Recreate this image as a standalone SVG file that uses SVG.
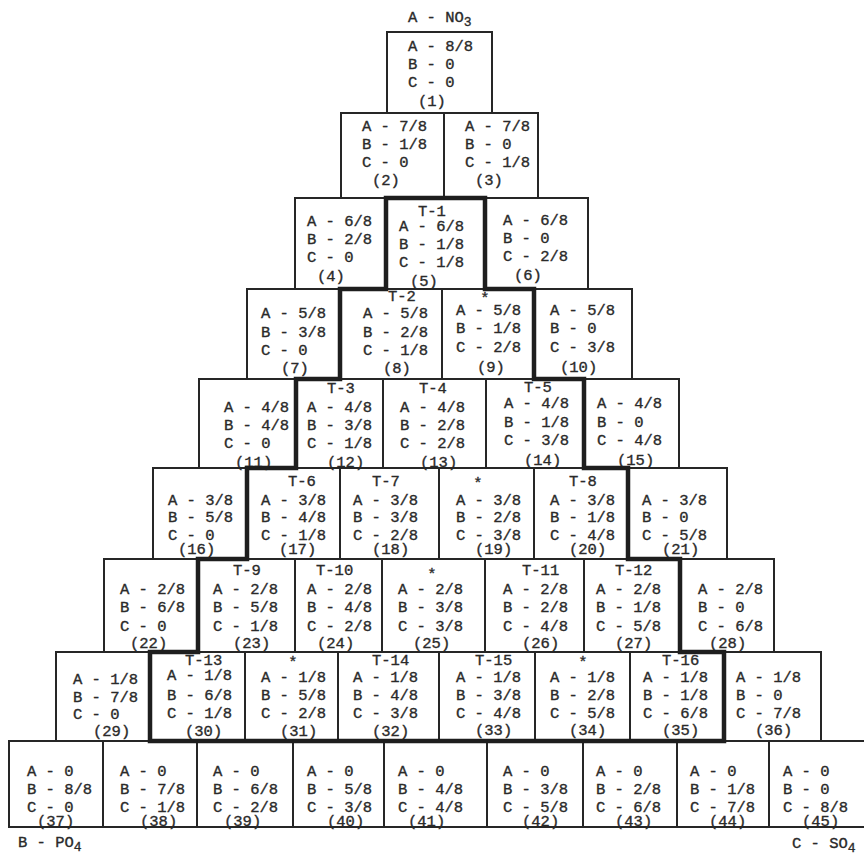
<svg xmlns="http://www.w3.org/2000/svg" width="864" height="856" viewBox="0 0 864 856">
<style>
.b{fill:none;stroke:#262626;stroke-width:2}
.k{fill:none;stroke:#1e1e1e;stroke-width:4.5;stroke-linejoin:miter}
.t{font-family:"Liberation Mono","DejaVu Sans Mono",monospace;font-size:15.5px;fill:#2a2a2a;stroke:#2a2a2a;stroke-width:0.35}
.m{text-anchor:middle}
</style>
<rect x="0" y="0" width="864" height="856" fill="#ffffff"/>
<text class="t" x="408" y="22">A - NO<tspan dy="4" font-size="13">3</tspan></text>
<text class="t" x="18" y="847">B - PO<tspan dy="4" font-size="13">4</tspan></text>
<text class="t" x="792" y="848">C - SO<tspan dy="4" font-size="13">4</tspan></text>

<g id="n1"><rect class="b" x="387" y="32" width="105" height="81"/><text class="t"><tspan x="408" y="51">A - 8/8</tspan><tspan x="408" y="69">B - 0</tspan><tspan x="408" y="87">C - 0</tspan><tspan x="418" y="106">(1)</tspan></text></g>

<g id="n2"><rect class="b" x="341" y="113" width="103" height="85"/><text class="t"><tspan x="362" y="131">A - 7/8</tspan><tspan x="362" y="149">B - 1/8</tspan><tspan x="362" y="167">C - 0</tspan><tspan x="372" y="185">(2)</tspan></text></g>
<g id="n3"><rect class="b" x="444" y="113" width="94" height="85"/><text class="t"><tspan x="465" y="131">A - 7/8</tspan><tspan x="465" y="149">B - 0</tspan><tspan x="465" y="167">C - 1/8</tspan><tspan x="475" y="185">(3)</tspan></text></g>

<g id="n4"><rect class="b" x="295" y="198" width="91" height="91"/><text class="t"><tspan x="307" y="226">A - 6/8</tspan><tspan x="307" y="244">B - 2/8</tspan><tspan x="307" y="262">C - 0</tspan><tspan x="317" y="281">(4)</tspan></text></g>
<g id="n5"><rect class="b" x="386" y="198" width="99" height="91"/><text class="t"><tspan x="418" y="216">T-1</tspan><tspan x="399" y="231">A - 6/8</tspan><tspan x="399" y="249">B - 1/8</tspan><tspan x="399" y="267">C - 1/8</tspan><tspan x="410" y="286">(5)</tspan></text></g>
<g id="n6"><rect class="b" x="485" y="198" width="103" height="91"/><text class="t"><tspan x="503" y="225">A - 6/8</tspan><tspan x="503" y="243">B - 0</tspan><tspan x="503" y="261">C - 2/8</tspan><tspan x="514" y="280">(6)</tspan></text></g>

<g id="n7"><rect class="b" x="247" y="289" width="93" height="90"/><text class="t"><tspan x="261" y="318">A - 5/8</tspan><tspan x="261" y="337">B - 3/8</tspan><tspan x="261" y="355">C - 0</tspan><tspan x="281" y="373">(7)</tspan></text></g>
<g id="n8"><rect class="b" x="340" y="289" width="102" height="90"/><text class="t"><tspan x="388" y="301">T-2</tspan><tspan x="363" y="318">A - 5/8</tspan><tspan x="363" y="337">B - 2/8</tspan><tspan x="363" y="355">C - 1/8</tspan><tspan x="383" y="373">(8)</tspan></text></g>
<g id="n9"><rect class="b" x="442" y="289" width="92" height="90"/><text class="t"><tspan class="m" x="485" y="303">*</tspan><tspan x="456" y="315">A - 5/8</tspan><tspan x="456" y="333">B - 1/8</tspan><tspan x="456" y="352">C - 2/8</tspan><tspan x="477" y="372">(9)</tspan></text></g>
<g id="n10"><rect class="b" x="534" y="289" width="98" height="90"/><text class="t"><tspan x="550" y="315">A - 5/8</tspan><tspan x="550" y="333">B - 0</tspan><tspan x="550" y="352">C - 3/8</tspan><tspan x="560" y="372">(10)</tspan></text></g>

<g id="n11"><rect class="b" x="199" y="379" width="97" height="89"/><text class="t"><tspan x="224" y="412">A - 4/8</tspan><tspan x="224" y="430">B - 4/8</tspan><tspan x="224" y="448">C - 0</tspan><tspan x="235" y="467">(11)</tspan></text></g>
<g id="n12"><rect class="b" x="296" y="379" width="87" height="89"/><text class="t"><tspan x="327" y="393">T-3</tspan><tspan x="307" y="412">A - 4/8</tspan><tspan x="307" y="430">B - 3/8</tspan><tspan x="307" y="448">C - 1/8</tspan><tspan x="327" y="467">(12)</tspan></text></g>
<g id="n13"><rect class="b" x="383" y="379" width="103" height="89"/><text class="t"><tspan x="419" y="393">T-4</tspan><tspan x="400" y="412">A - 4/8</tspan><tspan x="400" y="430">B - 2/8</tspan><tspan x="400" y="448">C - 2/8</tspan><tspan x="420" y="467">(13)</tspan></text></g>
<g id="n14"><rect class="b" x="486" y="379" width="98" height="89"/><text class="t"><tspan x="524" y="392">T-5</tspan><tspan x="504" y="408">A - 4/8</tspan><tspan x="504" y="427">B - 1/8</tspan><tspan x="504" y="445">C - 3/8</tspan><tspan x="524" y="465">(14)</tspan></text></g>
<g id="n15"><rect class="b" x="584" y="379" width="95" height="89"/><text class="t"><tspan x="597" y="408">A - 4/8</tspan><tspan x="597" y="427">B - 0</tspan><tspan x="597" y="445">C - 4/8</tspan><tspan x="617" y="465">(15)</tspan></text></g>

<g id="n16"><rect class="b" x="153" y="468" width="94" height="91"/><text class="t"><tspan x="168" y="505">A - 3/8</tspan><tspan x="168" y="522">B - 5/8</tspan><tspan x="168" y="540">C - 0</tspan><tspan x="178" y="554">(16)</tspan></text></g>
<g id="n17"><rect class="b" x="247" y="468" width="93" height="91"/><text class="t"><tspan x="288" y="486">T-6</tspan><tspan x="261" y="505">A - 3/8</tspan><tspan x="261" y="522">B - 4/8</tspan><tspan x="261" y="540">C - 1/8</tspan><tspan x="279" y="554">(17)</tspan></text></g>
<g id="n18"><rect class="b" x="340" y="468" width="99" height="91"/><text class="t"><tspan x="372" y="486">T-7</tspan><tspan x="353" y="505">A - 3/8</tspan><tspan x="353" y="522">B - 3/8</tspan><tspan x="353" y="540">C - 2/8</tspan><tspan x="372" y="554">(18)</tspan></text></g>
<g id="n19"><rect class="b" x="439" y="468" width="95" height="91"/><text class="t"><tspan class="m" x="478" y="488">*</tspan><tspan x="456" y="505">A - 3/8</tspan><tspan x="456" y="522">B - 2/8</tspan><tspan x="456" y="540">C - 3/8</tspan><tspan x="475" y="554">(19)</tspan></text></g>
<g id="n20"><rect class="b" x="534" y="468" width="94" height="91"/><text class="t"><tspan x="569" y="486">T-8</tspan><tspan x="550" y="505">A - 3/8</tspan><tspan x="550" y="522">B - 1/8</tspan><tspan x="550" y="540">C - 4/8</tspan><tspan x="569" y="554">(20)</tspan></text></g>
<g id="n21"><rect class="b" x="628" y="468" width="99" height="91"/><text class="t"><tspan x="642" y="505">A - 3/8</tspan><tspan x="642" y="522">B - 0</tspan><tspan x="642" y="540">C - 5/8</tspan><tspan x="662" y="554">(21)</tspan></text></g>

<g id="n22"><rect class="b" x="104" y="559" width="94" height="93"/><text class="t"><tspan x="120" y="594">A - 2/8</tspan><tspan x="120" y="612">B - 6/8</tspan><tspan x="120" y="631">C - 0</tspan><tspan x="130" y="648">(22)</tspan></text></g>
<g id="n23"><rect class="b" x="198" y="559" width="97" height="93"/><text class="t"><tspan x="233" y="575">T-9</tspan><tspan x="213" y="594">A - 2/8</tspan><tspan x="213" y="612">B - 5/8</tspan><tspan x="213" y="631">C - 1/8</tspan><tspan x="233" y="648">(23)</tspan></text></g>
<g id="n24"><rect class="b" x="295" y="559" width="87" height="93"/><text class="t"><tspan x="316" y="575">T-10</tspan><tspan x="307" y="594">A - 2/8</tspan><tspan x="307" y="612">B - 4/8</tspan><tspan x="307" y="631">C - 2/8</tspan><tspan x="317" y="648">(24)</tspan></text></g>
<g id="n25"><rect class="b" x="382" y="559" width="103" height="93"/><text class="t"><tspan class="m" x="432" y="579">*</tspan><tspan x="398" y="594">A - 2/8</tspan><tspan x="398" y="612">B - 3/8</tspan><tspan x="398" y="631">C - 3/8</tspan><tspan x="413" y="648">(25)</tspan></text></g>
<g id="n26"><rect class="b" x="485" y="559" width="99" height="93"/><text class="t"><tspan x="522" y="575">T-11</tspan><tspan x="503" y="594">A - 2/8</tspan><tspan x="503" y="612">B - 2/8</tspan><tspan x="503" y="631">C - 4/8</tspan><tspan x="522" y="648">(26)</tspan></text></g>
<g id="n27"><rect class="b" x="584" y="559" width="96" height="93"/><text class="t"><tspan x="615" y="575">T-12</tspan><tspan x="596" y="594">A - 2/8</tspan><tspan x="596" y="612">B - 1/8</tspan><tspan x="596" y="631">C - 5/8</tspan><tspan x="615" y="648">(27)</tspan></text></g>
<g id="n28"><rect class="b" x="680" y="559" width="94" height="93"/><text class="t"><tspan x="698" y="594">A - 2/8</tspan><tspan x="698" y="612">B - 0</tspan><tspan x="698" y="631">C - 6/8</tspan><tspan x="709" y="648">(28)</tspan></text></g>

<g id="n29"><rect class="b" x="56" y="652" width="94" height="89"/><text class="t"><tspan x="73" y="684">A - 1/8</tspan><tspan x="73" y="702">B - 7/8</tspan><tspan x="73" y="719">C - 0</tspan><tspan x="93" y="736">(29)</tspan></text></g>
<g id="n30"><rect class="b" x="150" y="652" width="95" height="89"/><text class="t"><tspan x="185" y="665">T-13</tspan><tspan x="167" y="680">A - 1/8</tspan><tspan x="167" y="700">B - 6/8</tspan><tspan x="167" y="718">C - 1/8</tspan><tspan x="185" y="736">(30)</tspan></text></g>
<g id="n31"><rect class="b" x="245" y="652" width="93" height="89"/><text class="t"><tspan class="m" x="293" y="667">*</tspan><tspan x="261" y="682">A - 1/8</tspan><tspan x="261" y="700">B - 5/8</tspan><tspan x="261" y="718">C - 2/8</tspan><tspan x="280" y="736">(31)</tspan></text></g>
<g id="n32"><rect class="b" x="338" y="652" width="101" height="89"/><text class="t"><tspan x="372" y="665">T-14</tspan><tspan x="353" y="682">A - 1/8</tspan><tspan x="353" y="700">B - 4/8</tspan><tspan x="353" y="718">C - 3/8</tspan><tspan x="372" y="736">(32)</tspan></text></g>
<g id="n33"><rect class="b" x="439" y="652" width="96" height="89"/><text class="t"><tspan x="475" y="665">T-15</tspan><tspan x="456" y="682">A - 1/8</tspan><tspan x="456" y="700">B - 3/8</tspan><tspan x="456" y="718">C - 4/8</tspan><tspan x="475" y="735">(33)</tspan></text></g>
<g id="n34"><rect class="b" x="535" y="652" width="95" height="89"/><text class="t"><tspan class="m" x="583" y="667">*</tspan><tspan x="550" y="682">A - 1/8</tspan><tspan x="550" y="700">B - 2/8</tspan><tspan x="550" y="718">C - 5/8</tspan><tspan x="569" y="735">(34)</tspan></text></g>
<g id="n35"><rect class="b" x="630" y="652" width="94" height="89"/><text class="t"><tspan x="662" y="665">T-16</tspan><tspan x="643" y="682">A - 1/8</tspan><tspan x="643" y="700">B - 1/8</tspan><tspan x="643" y="718">C - 6/8</tspan><tspan x="662" y="735">(35)</tspan></text></g>
<g id="n36"><rect class="b" x="724" y="652" width="97" height="89"/><text class="t"><tspan x="736" y="682">A - 1/8</tspan><tspan x="736" y="700">B - 0</tspan><tspan x="736" y="718">C - 7/8</tspan><tspan x="755" y="735">(36)</tspan></text></g>

<g id="n37"><rect class="b" x="9" y="741" width="94" height="86"/><text class="t"><tspan x="27" y="776">A - 0</tspan><tspan x="27" y="794">B - 8/8</tspan><tspan x="27" y="812">C - 0</tspan><tspan x="37" y="826">(37)</tspan></text></g>
<g id="n38"><rect class="b" x="103" y="741" width="94" height="86"/><text class="t"><tspan x="120" y="776">A - 0</tspan><tspan x="120" y="794">B - 7/8</tspan><tspan x="120" y="812">C - 1/8</tspan><tspan x="140" y="826">(38)</tspan></text></g>
<g id="n39"><rect class="b" x="197" y="741" width="96" height="86"/><text class="t"><tspan x="213" y="776">A - 0</tspan><tspan x="213" y="794">B - 6/8</tspan><tspan x="213" y="812">C - 2/8</tspan><tspan x="224" y="826">(39)</tspan></text></g>
<g id="n40"><rect class="b" x="293" y="741" width="91" height="86"/><text class="t"><tspan x="307" y="776">A - 0</tspan><tspan x="307" y="794">B - 5/8</tspan><tspan x="307" y="812">C - 3/8</tspan><tspan x="327" y="826">(40)</tspan></text></g>
<g id="n41"><rect class="b" x="384" y="741" width="103" height="86"/><text class="t"><tspan x="398" y="776">A - 0</tspan><tspan x="398" y="794">B - 4/8</tspan><tspan x="398" y="812">C - 4/8</tspan><tspan x="408" y="826">(41)</tspan></text></g>
<g id="n42"><rect class="b" x="487" y="741" width="96" height="86"/><text class="t"><tspan x="503" y="776">A - 0</tspan><tspan x="503" y="794">B - 3/8</tspan><tspan x="503" y="812">C - 5/8</tspan><tspan x="522" y="826">(42)</tspan></text></g>
<g id="n43"><rect class="b" x="583" y="741" width="94" height="86"/><text class="t"><tspan x="596" y="776">A - 0</tspan><tspan x="596" y="794">B - 2/8</tspan><tspan x="596" y="812">C - 6/8</tspan><tspan x="615" y="826">(43)</tspan></text></g>
<g id="n44"><rect class="b" x="677" y="741" width="92" height="86"/><text class="t"><tspan x="690" y="776">A - 0</tspan><tspan x="690" y="794">B - 1/8</tspan><tspan x="690" y="812">C - 7/8</tspan><tspan x="709" y="826">(44)</tspan></text></g>
<g id="n45"><path class="b" d="M864,741 H769 V827 H864"/><text class="t"><tspan x="783" y="776">A - 0</tspan><tspan x="783" y="794">B - 0</tspan><tspan x="783" y="812">C - 8/8</tspan><tspan x="802" y="826">(45)</tspan></text></g>

<g id="outline"><path class="k" d="M386,289 V198 H485 V289 H534 V379 H584 V468 H628 V559 H680 V652 H724 V741 H150 V652 H198 V559 H247 V468 H296 V379 H340 V289 Z"/></g>
</svg>
